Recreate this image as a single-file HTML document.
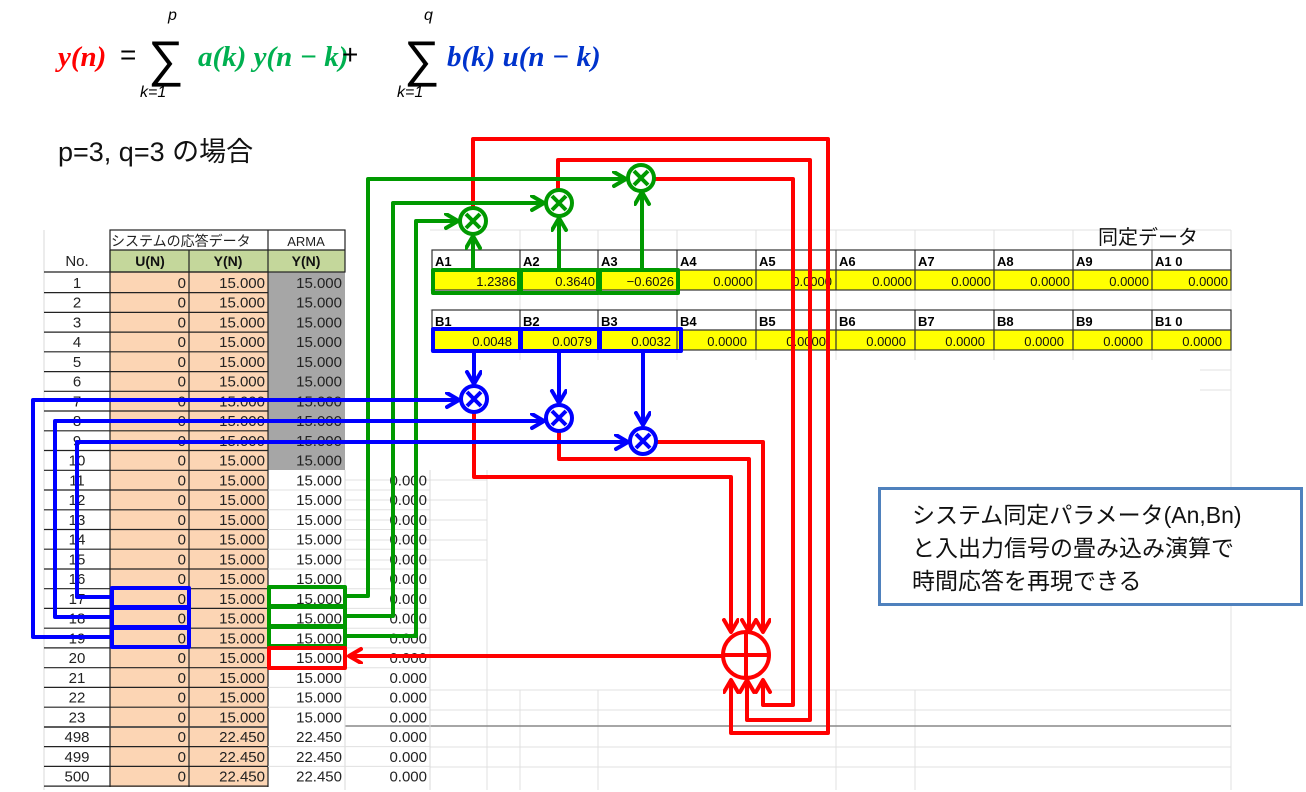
<!DOCTYPE html>
<html><head><meta charset="utf-8"><style>
html,body{margin:0;padding:0;background:#fff;}
svg{display:block;}
text{font-family:"Liberation Sans","Noto Sans CJK JP",sans-serif;}
.t{font-size:15px;fill:#222;}
.c{text-anchor:middle;}
.r{text-anchor:end;}
.p{font-size:13px;fill:#111;}
.h{font-size:13px;font-weight:bold;fill:#000;}
.m{font-family:"Liberation Serif",serif;font-style:italic;font-weight:bold;font-size:29px;}
</style></head><body>
<svg width="1306" height="792" viewBox="0 0 1306 792" xmlns="http://www.w3.org/2000/svg">
<defs>
<marker id="ag" markerUnits="userSpaceOnUse" markerWidth="20" markerHeight="20" refX="14" refY="8" orient="auto"><path d="M2,1 L14,8 L2,15" fill="none" stroke="#009900" stroke-width="4" stroke-linecap="round" stroke-linejoin="round"/></marker>
<marker id="ab" markerUnits="userSpaceOnUse" markerWidth="20" markerHeight="20" refX="14" refY="8" orient="auto"><path d="M2,1 L14,8 L2,15" fill="none" stroke="#0000ff" stroke-width="4" stroke-linecap="round" stroke-linejoin="round"/></marker>
<marker id="ar" markerUnits="userSpaceOnUse" markerWidth="20" markerHeight="20" refX="14" refY="8" orient="auto"><path d="M2,1 L14,8 L2,15" fill="none" stroke="#ff0000" stroke-width="4" stroke-linecap="round" stroke-linejoin="round"/></marker>
</defs>

<!-- formula -->
<text x="58" y="66" class="m" fill="#ff0000">y(n)</text>
<text x="120" y="64" font-family="Liberation Serif" font-size="28" fill="#000">=</text>
<text x="148" y="76" font-family="Liberation Serif" font-size="50" fill="#000">∑</text>
<text x="168" y="20" font-family="Liberation Serif" font-style="italic" font-size="16" fill="#000">p</text>
<text x="140" y="97" font-family="Liberation Serif" font-style="italic" font-size="16" fill="#000">k=1</text>
<text x="198" y="66" class="m" fill="#00b050">a(k) y(n − k)</text>
<text x="342" y="64" font-family="Liberation Serif" font-size="28" fill="#000">+</text>
<text x="404" y="76" font-family="Liberation Serif" font-size="50" fill="#000">∑</text>
<text x="424" y="20" font-family="Liberation Serif" font-style="italic" font-size="16" fill="#000">q</text>
<text x="397" y="97" font-family="Liberation Serif" font-style="italic" font-size="16" fill="#000">k=1</text>
<text x="447" y="66" class="m" fill="#0033cc">b(k) u(n − k)</text>

<text x="58" y="161" font-size="27" fill="#111">p=3, q=3 の場合</text>

<!-- right area light grid -->
<g stroke="#e0e0e0" stroke-width="1">
<line x1="430" y1="230" x2="1231" y2="230"/>
<line x1="430" y1="290" x2="1231" y2="290"/>
<line x1="430" y1="310" x2="1231" y2="310"/>
<line x1="430" y1="350" x2="1231" y2="350"/>
<line x1="345" y1="480" x2="487" y2="480"/>
<line x1="345" y1="500" x2="487" y2="500"/>
<line x1="345" y1="520" x2="487" y2="520"/>
<line x1="345" y1="540" x2="487" y2="540"/>
<line x1="345" y1="560" x2="487" y2="560"/>
<line x1="430" y1="690" x2="1231" y2="690"/>
<line x1="430" y1="710" x2="1231" y2="710"/>
<line x1="430" y1="747" x2="1231" y2="747"/>
<line x1="430" y1="767" x2="1231" y2="767"/>
<line x1="1200" y1="370" x2="1231" y2="370"/>
<line x1="1200" y1="390" x2="1231" y2="390"/>
<line x1="1231" y1="230" x2="1231" y2="790"/>
<line x1="520" y1="230" x2="520" y2="360"/><line x1="598" y1="230" x2="598" y2="360"/>
<line x1="677" y1="230" x2="677" y2="360"/><line x1="756" y1="230" x2="756" y2="360"/>
<line x1="836" y1="230" x2="836" y2="360"/><line x1="915" y1="230" x2="915" y2="360"/>
<line x1="994" y1="230" x2="994" y2="360"/><line x1="1073" y1="230" x2="1073" y2="360"/>
<line x1="1152" y1="230" x2="1152" y2="360"/>
<line x1="520" y1="690" x2="520" y2="790"/><line x1="598" y1="690" x2="598" y2="790"/>
<line x1="836" y1="690" x2="836" y2="790"/><line x1="915" y1="690" x2="915" y2="790"/>
<line x1="487" y1="470" x2="487" y2="790"/>
</g>
<line x1="345" y1="726" x2="1231" y2="726" stroke="#888" stroke-width="1.5"/>

<text x="1098" y="244" font-size="20" fill="#111">同定データ</text>

<!-- parameter tables -->
<rect x="432" y="270" width="799" height="20" fill="#ffff00"/>
<rect x="432" y="330" width="799" height="20" fill="#ffff00"/>
<g stroke="#333" stroke-width="1.2" fill="none">
<rect x="432" y="250" width="799" height="40"/>
<line x1="432" y1="270" x2="1231" y2="270"/>
<rect x="432" y="310" width="799" height="40"/>
<line x1="432" y1="330" x2="1231" y2="330"/>
<path d="M520,250V290M598,250V290M677,250V290M756,250V290M836,250V290M915,250V290M994,250V290M1073,250V290M1152,250V290"/>
<path d="M520,310V350M598,310V350M677,310V350M756,310V350M836,310V350M915,310V350M994,310V350M1073,310V350M1152,310V350"/>
</g>
<g class="h">
<text x="435" y="266">A1</text><text x="523" y="266">A2</text><text x="601" y="266">A3</text><text x="680" y="266">A4</text><text x="759" y="266">A5</text><text x="839" y="266">A6</text><text x="918" y="266">A7</text><text x="997" y="266">A8</text><text x="1076" y="266">A9</text><text x="1155" y="266">A1 0</text>
<text x="435" y="326">B1</text><text x="523" y="326">B2</text><text x="601" y="326">B3</text><text x="680" y="326">B4</text><text x="759" y="326">B5</text><text x="839" y="326">B6</text><text x="918" y="326">B7</text><text x="997" y="326">B8</text><text x="1076" y="326">B9</text><text x="1155" y="326">B1 0</text>
</g>
<g class="p r">
<text x="516" y="286">1.2386</text><text x="595" y="286">0.3640</text><text x="674" y="286">−0.6026</text><text x="753" y="286">0.0000</text><text x="832" y="286">0.0000</text><text x="912" y="286">0.0000</text><text x="991" y="286">0.0000</text><text x="1070" y="286">0.0000</text><text x="1149" y="286">0.0000</text><text x="1228" y="286">0.0000</text>
<text x="512" y="346">0.0048</text><text x="592" y="346">0.0079</text><text x="671" y="346">0.0032</text><text x="747" y="346">0.0000</text><text x="826" y="346">0.0000</text><text x="906" y="346">0.0000</text><text x="985" y="346">0.0000</text><text x="1064" y="346">0.0000</text><text x="1143" y="346">0.0000</text><text x="1222" y="346">0.0000</text>
</g>
<g fill="none" stroke-width="4" stroke-linejoin="round">
<rect x="433" y="270" width="86" height="23" stroke="#009900"/><rect x="521" y="270" width="77" height="23" stroke="#009900"/><rect x="600" y="270" width="78" height="23" stroke="#009900"/>
<rect x="433" y="329" width="87" height="22" stroke="#0000ff"/><rect x="521" y="329" width="78" height="22" stroke="#0000ff"/><rect x="600" y="329" width="81" height="22" stroke="#0000ff"/>
</g>

<!-- left table -->
<rect x="110" y="250" width="235" height="22" fill="#c4d79b"/>
<rect x="110" y="272" width="158" height="515" fill="#fcd5b4"/>
<rect x="268" y="272" width="77" height="198" fill="#a6a6a6"/>
<g stroke="#d8d8d8" stroke-width="1">
<line x1="44" y1="230" x2="44" y2="790"/>
<line x1="345" y1="470" x2="345" y2="790"/>
<line x1="430" y1="470" x2="430" y2="790"/>
</g>
<g stroke="#222" stroke-width="1.2" fill="none">
<rect x="110" y="230" width="235" height="42"/>
<line x1="110" y1="250" x2="345" y2="250"/>
<line x1="268" y1="230" x2="268" y2="787"/>
<line x1="189" y1="250" x2="189" y2="787"/>
<line x1="110" y1="250" x2="110" y2="787"/>
<line x1="44" y1="272" x2="268" y2="272"/>
<path id="rl" d="M44,292.6H268M44,312.4H268M44,332.1H268M44,351.8H268M44,371.6H268M44,391.3H268M44,411H268M44,430.8H268M44,450.5H268M44,470.3H268M44,490H268M44,509.8H268M44,529.5H268M44,549.2H268M44,569H268M44,588.7H268M44,608.4H268M44,628.2H268M44,647.9H268M44,667.7H268M44,687.4H268M44,707.2H268M44,746.6H268M44,766.4H268M44,786.1H268"/>
</g>
<line x1="44" y1="727" x2="268" y2="727" stroke="#444" stroke-width="1.8"/>
<g stroke="#e0e0e0"><path d="M345,490H430M345,509.8H430M345,529.5H430M345,549.2H430M345,569H430M345,588.7H430M345,608.4H430M345,628.2H430M345,647.9H430M345,667.7H430M345,687.4H430M345,707.2H430M345,746.6H430M345,766.4H430M268,490H345M268,509.8H345M268,529.5H345M268,549.2H345M268,569H345M268,588.7H345M268,608.4H345M268,628.2H345M268,647.9H345M268,667.7H345M268,687.4H345M268,707.2H345M268,746.6H345M268,766.4H345"/></g>

<text x="111" y="246" font-size="14" fill="#222">システムの応答データ</text>
<text x="306" y="246" font-size="13" fill="#222" class="c">ARMA</text>
<text x="77" y="266" class="t c" font-size="14">No.</text>
<text x="150" y="266" class="c" font-size="14" font-weight="bold" fill="#111">U(N)</text>
<text x="228" y="266" class="c" font-size="14" font-weight="bold" fill="#111">Y(N)</text>
<text x="306" y="266" class="c" font-size="14" font-weight="bold" fill="#111">Y(N)</text>

<g class="t">
<g transform="translate(0,288)"><text x="77" class="c">1</text><text x="186" class="r">0</text><text x="265" class="r">15.000</text><text x="342" class="r">15.000</text></g>
<g transform="translate(0,307.7)"><text x="77" class="c">2</text><text x="186" class="r">0</text><text x="265" class="r">15.000</text><text x="342" class="r">15.000</text></g>
<g transform="translate(0,327.5)"><text x="77" class="c">3</text><text x="186" class="r">0</text><text x="265" class="r">15.000</text><text x="342" class="r">15.000</text></g>
<g transform="translate(0,347.2)"><text x="77" class="c">4</text><text x="186" class="r">0</text><text x="265" class="r">15.000</text><text x="342" class="r">15.000</text></g>
<g transform="translate(0,367)"><text x="77" class="c">5</text><text x="186" class="r">0</text><text x="265" class="r">15.000</text><text x="342" class="r">15.000</text></g>
<g transform="translate(0,386.7)"><text x="77" class="c">6</text><text x="186" class="r">0</text><text x="265" class="r">15.000</text><text x="342" class="r">15.000</text></g>
<g transform="translate(0,406.4)"><text x="77" class="c">7</text><text x="186" class="r">0</text><text x="265" class="r">15.000</text><text x="342" class="r">15.000</text></g>
<g transform="translate(0,426.2)"><text x="77" class="c">8</text><text x="186" class="r">0</text><text x="265" class="r">15.000</text><text x="342" class="r">15.000</text></g>
<g transform="translate(0,445.9)"><text x="77" class="c">9</text><text x="186" class="r">0</text><text x="265" class="r">15.000</text><text x="342" class="r">15.000</text></g>
<g transform="translate(0,465.7)"><text x="77" class="c">10</text><text x="186" class="r">0</text><text x="265" class="r">15.000</text><text x="342" class="r">15.000</text></g>
<g transform="translate(0,485.4)"><text x="77" class="c">11</text><text x="186" class="r">0</text><text x="265" class="r">15.000</text><text x="342" class="r">15.000</text><text x="427" class="r">0.000</text></g>
<g transform="translate(0,505.1)"><text x="77" class="c">12</text><text x="186" class="r">0</text><text x="265" class="r">15.000</text><text x="342" class="r">15.000</text><text x="427" class="r">0.000</text></g>
<g transform="translate(0,524.9)"><text x="77" class="c">13</text><text x="186" class="r">0</text><text x="265" class="r">15.000</text><text x="342" class="r">15.000</text><text x="427" class="r">0.000</text></g>
<g transform="translate(0,544.6)"><text x="77" class="c">14</text><text x="186" class="r">0</text><text x="265" class="r">15.000</text><text x="342" class="r">15.000</text><text x="427" class="r">0.000</text></g>
<g transform="translate(0,564.4)"><text x="77" class="c">15</text><text x="186" class="r">0</text><text x="265" class="r">15.000</text><text x="342" class="r">15.000</text><text x="427" class="r">0.000</text></g>
<g transform="translate(0,584.1)"><text x="77" class="c">16</text><text x="186" class="r">0</text><text x="265" class="r">15.000</text><text x="342" class="r">15.000</text><text x="427" class="r">0.000</text></g>
<g transform="translate(0,603.8)"><text x="77" class="c">17</text><text x="186" class="r">0</text><text x="265" class="r">15.000</text><text x="342" class="r">15.000</text><text x="427" class="r">0.000</text></g>
<g transform="translate(0,623.6)"><text x="77" class="c">18</text><text x="186" class="r">0</text><text x="265" class="r">15.000</text><text x="342" class="r">15.000</text><text x="427" class="r">0.000</text></g>
<g transform="translate(0,643.3)"><text x="77" class="c">19</text><text x="186" class="r">0</text><text x="265" class="r">15.000</text><text x="342" class="r">15.000</text><text x="427" class="r">0.000</text></g>
<g transform="translate(0,663.1)"><text x="77" class="c">20</text><text x="186" class="r">0</text><text x="265" class="r">15.000</text><text x="342" class="r">15.000</text><text x="427" class="r">0.000</text></g>
<g transform="translate(0,682.8)"><text x="77" class="c">21</text><text x="186" class="r">0</text><text x="265" class="r">15.000</text><text x="342" class="r">15.000</text><text x="427" class="r">0.000</text></g>
<g transform="translate(0,702.5)"><text x="77" class="c">22</text><text x="186" class="r">0</text><text x="265" class="r">15.000</text><text x="342" class="r">15.000</text><text x="427" class="r">0.000</text></g>
<g transform="translate(0,722.3)"><text x="77" class="c">23</text><text x="186" class="r">0</text><text x="265" class="r">15.000</text><text x="342" class="r">15.000</text><text x="427" class="r">0.000</text></g>
<g transform="translate(0,742)"><text x="77" class="c">498</text><text x="186" class="r">0</text><text x="265" class="r">22.450</text><text x="342" class="r">22.450</text><text x="427" class="r">0.000</text></g>
<g transform="translate(0,761.8)"><text x="77" class="c">499</text><text x="186" class="r">0</text><text x="265" class="r">22.450</text><text x="342" class="r">22.450</text><text x="427" class="r">0.000</text></g>
<g transform="translate(0,781.5)"><text x="77" class="c">500</text><text x="186" class="r">0</text><text x="265" class="r">22.450</text><text x="342" class="r">22.450</text><text x="427" class="r">0.000</text></g>
</g>

<!-- connectors -->
<g fill="none" stroke-width="4" stroke-linejoin="round">
<!-- red -->
<polyline points="473,208 473,139 828,139 828,733 731,733 731,680" stroke="#ff0000" marker-end="url(#ar)"/>
<polyline points="558,190 558,160 810,160 810,720 747,720 747,680" stroke="#ff0000" marker-end="url(#ar)"/>
<polyline points="654,179 793,179 793,705 763,705 763,680" stroke="#ff0000" marker-end="url(#ar)"/>
<polyline points="656,442 763,442 763,632" stroke="#ff0000" marker-end="url(#ar)"/>
<polyline points="559,431 559,459 749,459 749,632" stroke="#ff0000" marker-end="url(#ar)"/>
<polyline points="474,412 474,477 731,477 731,632" stroke="#ff0000" marker-end="url(#ar)"/>
<polyline points="723,656 349,656" stroke="#ff0000" marker-end="url(#ar)"/>
<!-- green -->
<polyline points="346,596 368,596 368,179 626,179" stroke="#009900" marker-end="url(#ag)"/>
<polyline points="346,616 393,616 393,203 544,203" stroke="#009900" marker-end="url(#ag)"/>
<polyline points="346,636 416,636 416,221 458,221" stroke="#009900" marker-end="url(#ag)"/>
<polyline points="473,268 473,236" stroke="#009900" marker-end="url(#ag)"/>
<polyline points="559,268 559,218" stroke="#009900" marker-end="url(#ag)"/>
<polyline points="642,268 642,192" stroke="#009900" marker-end="url(#ag)"/>
<!-- blue -->
<polyline points="112,597 77,597 77,442 628,442" stroke="#0000ff" marker-end="url(#ab)"/>
<polyline points="112,617 55,617 55,421 544,421" stroke="#0000ff" marker-end="url(#ab)"/>
<polyline points="112,637 33,637 33,400 459,400" stroke="#0000ff" marker-end="url(#ab)"/>
<polyline points="474,353 474,384" stroke="#0000ff" marker-end="url(#ab)"/>
<polyline points="559,353 559,403" stroke="#0000ff" marker-end="url(#ab)"/>
<polyline points="643,353 643,425" stroke="#0000ff" marker-end="url(#ab)"/>
<!-- boxes -->
<rect x="112" y="588" width="77" height="19" stroke="#0000ff"/>
<rect x="112" y="608" width="77" height="19" stroke="#0000ff"/>
<rect x="112" y="628" width="77" height="19" stroke="#0000ff"/>
<rect x="269" y="587" width="76" height="19" stroke="#009900"/>
<rect x="269" y="607" width="76" height="19" stroke="#009900"/>
<rect x="269" y="627" width="76" height="19" stroke="#009900"/>
<rect x="269" y="648" width="76" height="20" stroke="#ff0000"/>
</g>

<!-- multipliers -->
<g fill="#fff" stroke-width="4">
<g stroke="#009900">
<circle cx="473" cy="221" r="13"/><path d="M466,214L480,228M480,214L466,228"/>
<circle cx="559" cy="203" r="13"/><path d="M552,196L566,210M566,196L552,210"/>
<circle cx="641" cy="178" r="13"/><path d="M634,171L648,185M648,171L634,185"/>
</g>
<g stroke="#0000ff">
<circle cx="474" cy="399" r="13"/><path d="M467,392L481,406M481,392L467,406"/>
<circle cx="559" cy="418" r="13"/><path d="M552,411L566,425M566,411L552,425"/>
<circle cx="643" cy="441" r="13"/><path d="M636,434L650,448M650,434L636,448"/>
</g>
<g stroke="#ff0000">
<circle cx="746" cy="655" r="23"/><path d="M723,655H769M746,632V678"/>
</g>
</g>

<!-- note box -->
<rect x="879.5" y="488.5" width="422" height="116" fill="#fff" stroke="#4f81bd" stroke-width="3"/>
<text x="912" y="523" font-size="23" fill="#111">システム同定パラメータ(An,Bn)</text>
<text x="912" y="556" font-size="23" fill="#111">と入出力信号の畳み込み演算で</text>
<text x="912" y="589" font-size="23" fill="#111">時間応答を再現できる</text>
</svg>
</body></html>
